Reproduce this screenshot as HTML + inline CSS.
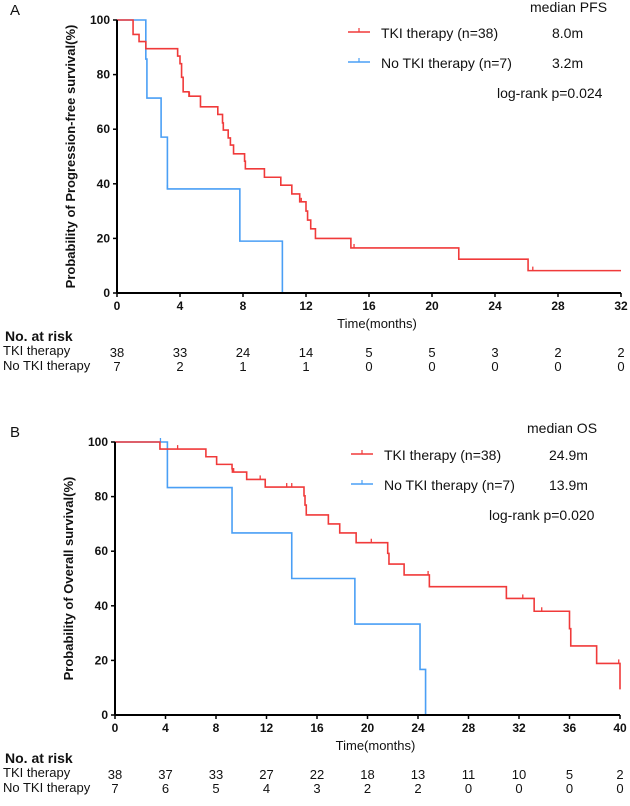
<!DOCTYPE html>
<html><head><meta charset="utf-8"><style>
body{margin:0;background:#fff;width:630px;height:801px;overflow:hidden}
svg{font-family:"Liberation Sans",Arial,sans-serif}
</style></head><body>
<svg id="c" width="630" height="801"></svg>
<script>
// Panel A data
const aTicksX=[0,4,8,12,16,20,24,28,32];
const aTicksY=[0,20,40,60,80,100];
const aTkiT=[0,1.02,1.4,1.83,3.85,4.0,4.1,4.2,4.57,5.3,6.4,6.7,6.75,7.06,7.2,7.4,8.1,8.15,9.36,10.4,11.1,11.6,12.0,12.1,12.3,12.6,14.85,21.7,26.1,32];
const aTkiS=[100,94.7,92.1,89.5,86.8,84,79,73.7,72.1,68.2,65.4,62.3,59.7,56.8,54.2,51,48.3,45.5,42.4,39.5,36.3,33.4,30,26.7,23.5,20,16.5,12.4,8.2,8.2];
const aTkiCens=[4.6,11.7,15.05,26.4];
const aNoT=[0,1.83,1.9,2.8,3.2,7.8,10.5];
const aNoS=[100,85.7,71.4,57.1,38.1,19,0];
const aNoCens=[3.2];
const aRiskTki=[38,33,24,14,5,5,3,2,2];
const aRiskNo=[7,2,1,1,0,0,0,0,0];
// Panel B data
const bTicksX=[0,4,8,12,16,20,24,28,32,36,40];
const bTicksY=[0,20,40,60,80,100];
const bTkiT=[0,3.56,7.2,8.05,9.27,9.3,10.43,11.9,14.97,15.05,15.15,16.9,17.8,19.1,21.6,21.7,22.9,24.9,31.0,33.2,36.0,36.1,38.15,40];
const bTkiS=[100,97.4,94.6,91.8,90.2,89,86.3,83.5,80.3,76.9,73.3,70,66.7,63.1,59.2,55.3,51.3,47,42.7,38,31.6,25.3,18.9,9.4];
const bTkiCens=[4.96,9.4,11.5,13.6,14.0,20.3,24.8,32.3,33.8,39.9];
const bNoT=[0,4.15,9.27,14.0,19.0,24.16,24.6];
const bNoS=[100,83.3,66.7,50,33.3,16.7,0];
const bNoCens=[3.6];
const bRiskTki=[38,37,33,27,22,18,13,11,10,5,2];
const bRiskNo=[7,6,5,4,3,2,2,0,0,0,0];

const NS='http://www.w3.org/2000/svg';
const svg=document.getElementById('c');
function el(tag,attrs,parent,text){const e=document.createElementNS(NS,tag);for(const k in attrs)e.setAttribute(k,attrs[k]);if(text!==undefined)e.textContent=text;(parent||svg).appendChild(e);return e;}
function txt(x,y,s,size,opt,name){const e=el('text',Object.assign({x:x,y:y,'font-size':size,fill:'#111'},opt||{}),svg,s);

return e;}

function panel(cfg){
  const X=v=>cfg.x0+(v/cfg.xmax)*(cfg.x1-cfg.x0);
  const Y=v=>cfg.y0-(v/100)*(cfg.y0-cfg.y1);
  const g=el('g',{});
  
  
  function curve(T,S,cens,color,nm){
    let d='M'+X(T[0])+' '+Y(S[0]);
    for(let i=1;i<T.length;i++){d+=' H'+X(T[i])+' V'+Y(S[i]);}
    const p=el('path',{d:d,fill:'none',stroke:color,'stroke-width':1.6},g);
    
    
    cens.forEach(c=>{let s=S[0];for(let i=0;i<T.length;i++){if(T[i]<=c)s=S[i];}
      const t=el('line',{x1:X(c),x2:X(c),y1:Y(s),y2:Y(s)-4,stroke:color,'stroke-width':1.3},g);
      
      });
  }
  curve(cfg.noT,cfg.noS,cfg.noC,'#4a9ff5','no-tki');
  curve(cfg.tkiT,cfg.tkiS,cfg.tkiC,'#f03a3a','tki');
  const ax=el('line',{x1:cfg.x0,x2:cfg.x1,y1:cfg.y0,y2:cfg.y0,stroke:'#000','stroke-width':2},g);
  
  const ay=el('line',{x1:cfg.x0,x2:cfg.x0,y1:cfg.y0,y2:cfg.y1,stroke:'#000','stroke-width':2},g);
  
  cfg.tx.forEach(v=>{el('line',{x1:X(v),x2:X(v),y1:cfg.y0,y2:cfg.y0+4,stroke:'#000','stroke-width':1.5},g);
    txt(X(v),cfg.y0+17,String(v),12,{'text-anchor':'middle','font-weight':'bold'},'x-tick-label');});
  cfg.ty.forEach(v=>{el('line',{x1:cfg.x0-4,x2:cfg.x0,y1:Y(v),y2:Y(v),stroke:'#000','stroke-width':1.5},g);
    txt(cfg.x0-7,Y(v)+4,String(v),12,{'text-anchor':'end','font-weight':'bold'},'y-tick-label');});
  txt((cfg.x0+cfg.x1)/2+8,cfg.y0+35,'Time(months)',13,{'text-anchor':'middle'},'x-axis-title');
  txt(0,0,cfg.ytitle,13,{'text-anchor':'middle','font-weight':'bold',transform:'translate('+(cfg.x0-42)+','+((cfg.y0+cfg.y1)/2)+') rotate(-90)'},'y-axis-title');
  txt(10,cfg.y1-5,cfg.letter,15,{},'panel-label');
  const L=cfg.leg;
  txt(L.mx,L.my,cfg.medianTitle,14,{},'legend-title');
  [[cfg.tkiLabel,'#f03a3a',cfg.tkiMed,0],[cfg.noLabel,'#4a9ff5',cfg.noMed,1]].forEach(a=>{
    const yy=L.ly+a[3]*30;
    const ln=el('line',{x1:L.lx,x2:L.lx+22,y1:yy,y2:yy,stroke:a[1],'stroke-width':1.6});
    
    el('line',{x1:L.lx+11,x2:L.lx+11,y1:yy,y2:yy-4,stroke:a[1],'stroke-width':1.2});
    txt(L.lx+33,yy+6,a[0],14,{},'legend-entry');
    txt(L.vx,yy+6,a[2],14,{},'legend-median');
  });
  txt(L.px,L.ly+66,cfg.pval,14,{},'log-rank-p');
  const R=cfg.riskY;
  txt(5,R,'No. at risk',14,{'font-weight':'bold'},'risk-table-title');
  txt(3,R+14,'TKI therapy',13,{},'risk-row-label');
  txt(3,R+29,'No TKI therapy',13,{},'risk-row-label');
  cfg.tx.forEach((v,i)=>{
    txt(X(v),R+16,String(cfg.rT[i]),13,{'text-anchor':'middle'},'risk-count');
    txt(X(v),R+30,String(cfg.rN[i]),13,{'text-anchor':'middle'},'risk-count');
  });
}
panel({name:'panel-a',letter:'A',x0:117,x1:621,y0:293,y1:20,xmax:32,tx:aTicksX,ty:aTicksY,
 tkiT:aTkiT,tkiS:aTkiS,tkiC:aTkiCens,noT:aNoT,noS:aNoS,noC:aNoCens,rT:aRiskTki,rN:aRiskNo,
 ytitle:'Probability of Progression-free survival(%)',medianTitle:'median PFS',
 tkiLabel:'TKI therapy (n=38)',noLabel:'No TKI therapy (n=7)',tkiMed:'8.0m',noMed:'3.2m',pval:'log-rank p=0.024',
 leg:{mx:530,my:12,lx:348,ly:32,vx:552,px:497},riskY:341});
panel({name:'panel-b',letter:'B',x0:115,x1:620,y0:715,y1:442,xmax:40,tx:bTicksX,ty:bTicksY,
 tkiT:bTkiT,tkiS:bTkiS,tkiC:bTkiCens,noT:bNoT,noS:bNoS,noC:bNoCens,rT:bRiskTki,rN:bRiskNo,
 ytitle:'Probability of Overall survival(%)',medianTitle:'median OS',
 tkiLabel:'TKI therapy (n=38)',noLabel:'No TKI therapy (n=7)',tkiMed:'24.9m',noMed:'13.9m',pval:'log-rank p=0.020',
 leg:{mx:527,my:433,lx:351,ly:454,vx:549,px:489},riskY:763});
</script>
</body></html>
